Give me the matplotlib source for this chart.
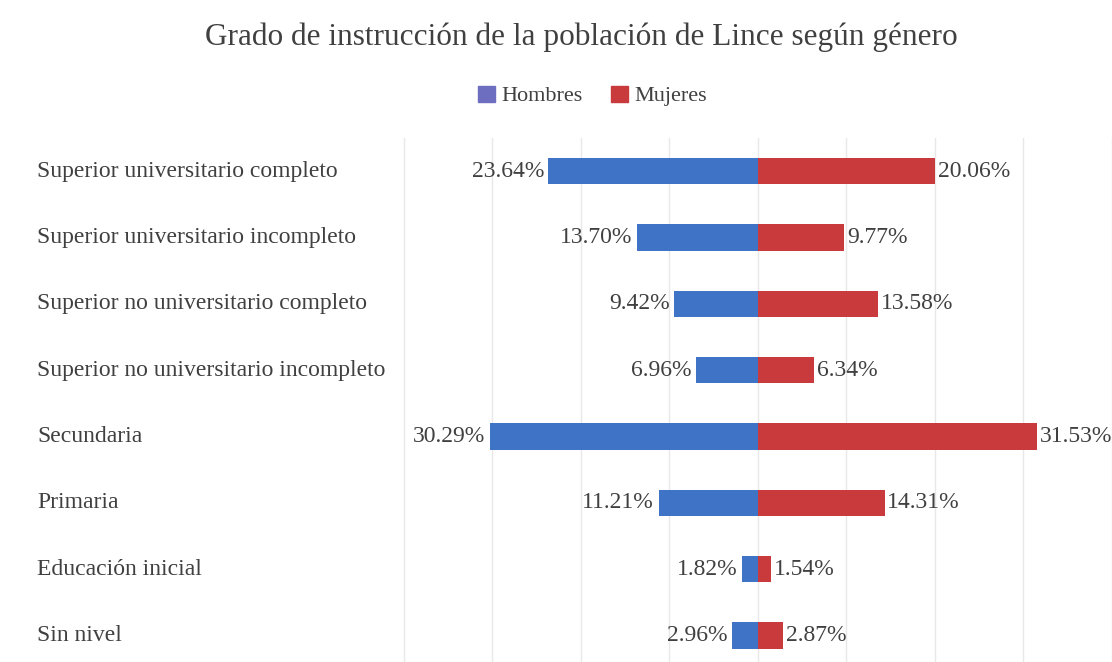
import matplotlib.pyplot as plt
from matplotlib.patches import Patch
from matplotlib.transforms import blended_transform_factory

categorias = ["Superior universitario completo", "Superior universitario incompleto",
              "Superior no universitario completo", "Superior no universitario incompleto",
              "Secundaria", "Primaria", "Educación inicial", "Sin nivel"]
hombres = [23.64, 13.70, 9.42, 6.96, 30.29, 11.21, 1.82, 2.96]
mujeres = [20.06, 9.77, 13.58, 6.34, 31.53, 14.31, 1.54, 2.87]

azul = '#3F73C6'
rojo = '#C83A3C'
gris = '#404040'

plt.rcParams['font.family'] = ['Liberation Serif', 'DejaVu Serif']

fig = plt.figure(figsize=(11.12, 6.62), dpi=100)
ax = fig.add_axes([393/1112, 0, 1 - 393/1112, (662-138)/662])

y = list(range(len(categorias)))
ax.barh(y, [-h for h in hombres], height=0.4, color=azul, zorder=3)
ax.barh(y, mujeres, height=0.4, color=rojo, zorder=3)

ax.set_xlim(-41.2, 38.7)
ax.set_ylim(7.4, -0.5)

trans = blended_transform_factory(fig.transFigure, ax.transData)
for i in y:
    ax.text(-hombres[i] - 0.5, i, f"{hombres[i]:.2f}%", ha='right', va='center',
            fontsize=17, color=gris, zorder=4)
    ax.text(mujeres[i] + 0.3, i, f"{mujeres[i]:.2f}%", ha='left', va='center',
            fontsize=17, color=gris, zorder=4)
    ax.text(37/1112, i, categorias[i], transform=trans, ha='left', va='center',
            fontsize=17, color=gris, clip_on=False)

ax.set_xticks(range(-40, 41, 10))
ax.grid(axis='x', color='#e8e8e8', linewidth=1, zorder=0)
ax.set_yticks([])
ax.tick_params(axis='x', length=0, labelbottom=False)
for s in ax.spines.values():
    s.set_visible(False)

fig.text(0.523, 1 - 37/662, "Grado de instrucción de la población de Lince según género",
         ha='center', va='center', fontsize=22.5, color=gris)

fig.legend(handles=[Patch(color='#6E6EC0', label='Hombres'), Patch(color=rojo, label='Mujeres')],
           loc='center', bbox_to_anchor=(0.533, 1 - 96/662), ncol=2, frameon=False,
           fontsize=16, handlelength=0.75, handleheight=0.75, handletextpad=0.3,
           columnspacing=1.3, labelcolor=gris)

fig.savefig('out.png', dpi=100)
